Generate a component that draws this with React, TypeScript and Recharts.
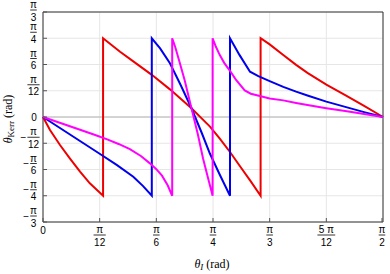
import React from 'react';
import {
  LineChart, Line, XAxis, YAxis, CartesianGrid, ReferenceLine, ReferenceArea,
} from 'recharts';

// angles in degrees, axes are labelled in fractions of pi
const xTicks = [0, 15, 30, 45, 60, 75, 90];
const xTickLabels = ['0', 'π/12', 'π/6', 'π/4', 'π/3', '5 π/12', 'π/2'];
const yTicks = [-60, -45, -30, -15, 0, 15, 30, 45, 60];
const yTickLabels = ['−π/3', '−π/4', '−π/6', '−π/12', '0', 'π/12', 'π/6', 'π/4', 'π/3'];

const redTheta = [0, 1.85, 4.5, 7.1, 9.8, 12.4, 15.9, 15.9, 20.4, 23.9, 28.8, 33.6, 39.3, 42, 44.2, 46.8, 49.5, 52.1, 55, 57.6, 57.6, 60, 63.6, 67, 70, 75, 80, 85, 90];
const redKerr = [0, -7.4, -16, -23.6, -31.2, -37.9, -45, 45, 37.3, 31.8, 24.1, 15.8, 5, -0.8, -5.5, -12.3, -20, -28, -36.8, -45, 45, 41.5, 35.4, 29.8, 25.2, 18.5, 12.5, 6.3, 0];

const blueTheta = [0, 5, 10, 15, 19.5, 23.9, 26.5, 28.8, 28.8, 31, 33.6, 36.5, 39.3, 42, 44.2, 46.8, 49.5, 49.5, 52, 54.8, 57, 60, 63.6, 67, 70, 75, 80, 85, 90];
const blueKerr = [0, -7, -14, -21, -27.4, -34.1, -39.5, -45, 45, 39.2, 30.7, 18, 5, -9, -21, -33, -45, 45, 35.5, 25.9, 23.3, 20.5, 17.2, 14.5, 12.3, 8.8, 5.8, 2.8, 0];

const magentaTheta = [0, 5, 10, 14, 17, 20, 23, 26, 28.3, 30, 31.5, 33, 34.2, 34.2, 35, 36.2, 37.5, 39.3, 41, 42.4, 43.7, 44.9, 44.9, 45.8, 46.8, 48, 49.5, 51, 53.4, 55, 57.4, 60, 63.6, 67, 70, 75, 80, 85, 90];
const magentaKerr = [0, -3.7, -7.4, -10.4, -12.8, -15.4, -18.4, -22.4, -26.5, -29.8, -33.5, -39, -45, 45, 40, 31, 21, 5, -10, -24, -35, -45, 45, 40, 35.4, 30.8, 26.4, 21.5, 15.2, 13.3, 12, 10.6, 9.5, 8, 6.8, 5, 3.4, 1.7, 0];

const toPoints = (xs: number[], ys: number[]) => xs.map((x, i) => ({ x, y: ys[i] }));

const tickFont = { fontFamily: "'Liberation Sans', Arial, sans-serif", fontSize: 10, fill: '#000' };

function Fraction({ cx, bar, label }: { cx: number; bar: number; label: string }) {
  const neg = label.startsWith('−');
  const [num, den] = label.replace('−', '').split('/');
  const w = Math.max(num.length, den.length) * 5.6 + 1;
  return (
    <g>
      {neg && (
        <text x={cx - w / 2 - 1} y={bar + 3.5} textAnchor="end" {...tickFont}>−</text>
      )}
      <text x={cx} y={bar - 2} textAnchor="middle" {...tickFont}>{num}</text>
      <line x1={cx - w / 2} x2={cx + w / 2} y1={bar} y2={bar} stroke="#000" strokeWidth={0.8} />
      <text x={cx} y={bar + 10.5} textAnchor="middle" {...tickFont}>{den}</text>
    </g>
  );
}

function XTick(props: any) {
  const { x, y, payload } = props;
  const label = xTickLabels[xTicks.indexOf(payload.value)];
  return (
    <g>
      <line x1={x} x2={x} y1={y - 4} y2={y} stroke="#555" />
      {label.includes('/')
        ? <Fraction cx={x} bar={y + 13} label={label} />
        : <text x={x} y={y + 12} textAnchor="middle" {...tickFont}>{label}</text>}
    </g>
  );
}

function YTick(props: any) {
  const { x, y, payload } = props;
  const label = yTickLabels[yTicks.indexOf(payload.value)];
  const shift = Math.max(0, 16 - y);
  return (
    <g>
      <line x1={x} x2={x + 4} y1={y} y2={y} stroke="#555" />
      {label.includes('/')
        ? <Fraction cx={x - 9.5} bar={y - 6 + shift} label={label} />
        : <text x={x - 9} y={y + 3.5} textAnchor="middle" {...tickFont}>{label}</text>}
    </g>
  );
}

export default function App() {
  const serif = { fontFamily: "'Liberation Serif', 'Times New Roman', serif", fill: '#000' };
  return (
    <div style={{ position: 'absolute', left: 0, top: 0, width: 390, height: 274 }}>
      <LineChart width={390} height={274} margin={{ top: 12, right: 7, left: 0, bottom: 0 }}>
        <CartesianGrid stroke="#e6e6e6" strokeWidth={1} />
        <XAxis
          type="number"
          dataKey="x"
          domain={[0, 90]}
          ticks={xTicks}
          height={52}
          tickSize={0}
          tickMargin={0}
          tickLine={false}
          axisLine={false}
          tick={<XTick />}
        />
        <YAxis
          type="number"
          domain={[-60, 60]}
          ticks={yTicks}
          width={43}
          tickSize={0}
          tickMargin={0}
          tickLine={false}
          axisLine={false}
          tick={<YTick />}
        />
        <ReferenceLine y={0} stroke="#b4b4b4" strokeWidth={1} />
        <Line data={toPoints(redTheta, redKerr)} dataKey="y" type="linear" stroke="#ee0000" strokeWidth={2} dot={false} isAnimationActive={false} />
        <Line data={toPoints(blueTheta, blueKerr)} dataKey="y" type="linear" stroke="#0000ee" strokeWidth={2} dot={false} isAnimationActive={false} />
        <Line data={toPoints(magentaTheta, magentaKerr)} dataKey="y" type="linear" stroke="#ff00ff" strokeWidth={2} dot={false} isAnimationActive={false} />
        <ReferenceArea x1={0} x2={90} y1={-60} y2={60} fill="none" stroke="#333" strokeWidth={1} ifOverflow="visible" />
        <text transform="translate(12,119) rotate(-90)" textAnchor="middle" fontSize={12} style={serif}>
          <tspan fontStyle="italic">θ</tspan>
          <tspan fontSize={9} dy={2}>Kerr</tspan>
          <tspan dy={-2}> (rad)</tspan>
        </text>
        <text x={212} y={268} textAnchor="middle" fontSize={12} style={serif}>
          <tspan fontStyle="italic">θ</tspan>
          <tspan fontSize={9} fontStyle="italic" dy={2}>I</tspan>
          <tspan dy={-2}> (rad)</tspan>
        </text>
      </LineChart>
    </div>
  );
}
